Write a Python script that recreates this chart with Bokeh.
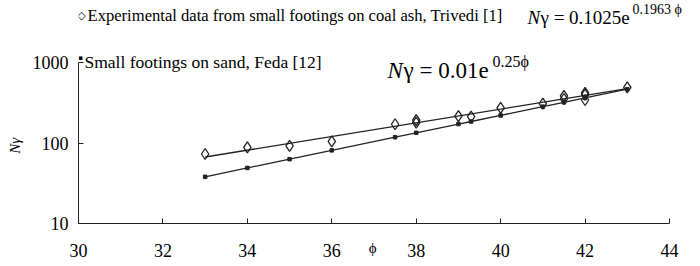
from bokeh.plotting import figure
from bokeh.models import Range1d, FixedTicker, PrintfTickFormatter, Label
from bokeh.embed import file_html
from bokeh.resources import INLINE

# ---- data ----
phi_trivedi = [33, 34, 35, 36, 37.5, 38, 38, 39, 39.3, 40, 41, 41.5, 41.5, 42, 42, 42, 43]
N_trivedi = [73, 88, 92, 105, 171, 192, 179, 216, 212, 273, 308, 385, 352, 420, 398, 342, 492]

phi_feda = [33, 34, 35, 36, 37.5, 38, 39, 39.3, 40, 41, 41.5, 42, 43]
N_feda = [38, 49, 63, 81, 118, 134, 172, 185, 220, 283, 320, 363, 466]

fit_phi = [33, 43]
trivedi_fit = [67, 474]

x_ticks = [30, 32, 34, 36, 38, 40, 42, 44]
y_ticks = [10, 100, 1000]

legend_trivedi = "Experimental data from small footings on coal ash, Trivedi [1]"
legend_feda = "Small footings on sand, Feda [12]"

FONT = "Liberation Serif"
INK = "#222222"
NBSP = "\u00a0"

W, H = 700, 264
# canvas pixel positions of the axis ends in the reference
X30, X44, Y10, Y1000 = 78, 669, 223, 62
# plotting frame extends to the top and right edges so the texts fit inside it
FL, FR, FT, FB = X30, W, 0, Y10

px_per_x = (X44 - X30) / (x_ticks[-1] - x_ticks[0])
px_per_dec = (Y10 - Y1000) / 2.0
x_end = x_ticks[0] + (FR - FL) / px_per_x
y_end = 10 ** (1 + (FB - FT) / px_per_dec)

p = figure(width=W, height=H, output_backend="svg", toolbar_location=None,
           y_axis_type="log",
           x_range=Range1d(x_ticks[0], x_end), y_range=Range1d(y_ticks[0], y_end),
           min_border_left=FL, min_border_right=W - FR,
           min_border_top=FT, min_border_bottom=H - FB,
           background_fill_color="white", border_fill_color="white")
p.outline_line_color = None
p.grid.visible = False

for ax in (p.xaxis[0], p.yaxis[0]):
    ax.axis_line_color = INK
    ax.axis_line_width = 1
    ax.major_tick_line_color = INK
    ax.major_tick_in = 5
    ax.major_tick_out = 0
    ax.minor_tick_line_color = None
    ax.major_label_text_font = FONT
    ax.major_label_text_font_size = "18px"
    ax.major_label_text_color = "black"
    ax.major_label_text_font_style = "normal"
    ax.axis_label_text_font = FONT
    ax.axis_label_text_color = "black"

p.xaxis.bounds = (x_ticks[0], x_ticks[-1])
p.xaxis.ticker = FixedTicker(ticks=x_ticks)
p.xaxis.major_label_standoff = 20
# padded so that the centred title lands on the tick-label row, centred on the 30-44 axis
p.xaxis.axis_label = "ϕ" + NBSP * 9
p.xaxis.axis_label_text_font_size = "15px"
p.xaxis.axis_label_text_font_style = "normal"
p.xaxis.axis_label_standoff = -20

p.yaxis.bounds = (y_ticks[0], y_ticks[-1])
p.yaxis.ticker = FixedTicker(ticks=y_ticks)
p.yaxis.formatter = PrintfTickFormatter(format="%d")
p.yaxis.major_label_standoff = 10
p.yaxis.axis_label = "Nγ" + NBSP * 18
p.yaxis.axis_label_text_font_size = "15px"
p.yaxis.axis_label_text_font_style = "italic"
p.yaxis.axis_label_standoff = 7

# ---- series ----
p.line(fit_phi, trivedi_fit, line_color=INK, line_width=1.3)
p.line(phi_feda, N_feda, line_color=INK, line_width=1.3)
p.scatter(phi_feda, N_feda, marker="square", size=3.5, fill_color=INK, line_color=INK)
p.scatter(phi_trivedi, N_trivedi, marker="diamond", size=11, fill_color="white",
          fill_alpha=0.0, line_color=INK, line_width=1.3)


def lab(x, y, text, size, style="normal", align="left", font=FONT):
    # x, y given in canvas pixels (from top-left); converted to frame screen units
    p.add_layout(Label(x=x - FL, y=FB - y, x_units="screen", y_units="screen",
                       text=text, text_font=font,
                       text_font_size=size, text_font_style=style,
                       text_color="black", text_align=align,
                       text_baseline="middle"))


# legend
lab(81, 15, "◇", "11px", align="center", font="DejaVu Sans")
lab(87, 15, legend_trivedi, "16.6px")
lab(80, 57, "▪", "7px", align="center", font="DejaVu Sans")
lab(84, 61, legend_feda, "17.5px")

# equations
lab(527, 17, "N", "19px", style="italic")
lab(540, 17, "γ = 0.1025e", "19px")
lab(632, 9, "0.1963 ϕ", "14px")

lab(387, 70, "N", "23px", style="italic")
lab(403, 70, "γ = 0.01e", "23px")
lab(492, 61, "0.25ϕ", "16px")

open("out.html", "w").write(file_html(p, INLINE))
